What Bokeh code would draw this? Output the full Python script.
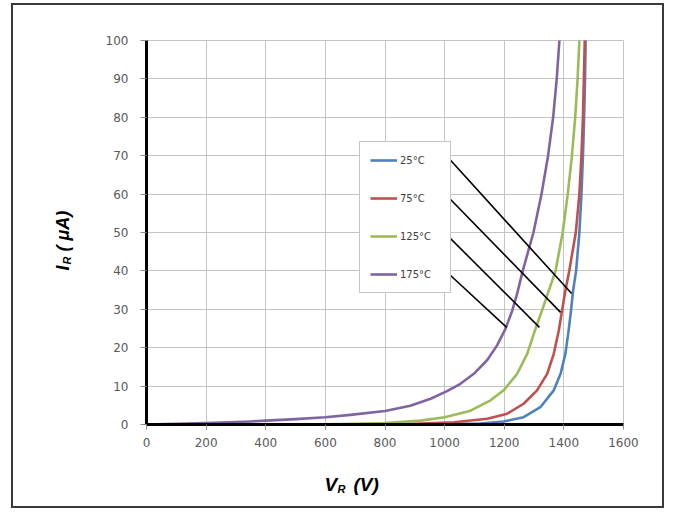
import math
from bokeh.plotting import figure
from bokeh.models import Range1d, FixedTicker, Legend, LegendItem, Label
from bokeh.embed import file_html
from bokeh.resources import INLINE

# ---- data ----
v_25 = [0, 900, 1000, 1120, 1198, 1265, 1321, 1366, 1389, 1405, 1416, 1424, 1431, 1441, 1452, 1459, 1464, 1468, 1471, 1473]
i_25 = [0, 0.02, 0.1, 0.25, 0.8, 1.9, 4.5, 8.9, 13.2, 18.4, 24.5, 29.7, 34.9, 40, 50, 60, 70, 80, 90, 100]

v_75 = [0, 800, 900, 1031, 1143, 1210, 1265, 1310, 1344, 1366, 1383, 1394, 1405, 1418, 1440, 1452, 1459, 1464, 1467, 1470]
i_75 = [0, 0.05, 0.2, 0.6, 1.5, 2.8, 5.4, 8.9, 13.2, 18.4, 24.5, 29.7, 34.9, 40, 50, 60, 70, 80, 90, 100]

v_125 = [0, 600, 700, 800, 919, 1000, 1087, 1154, 1198, 1243, 1277, 1299, 1328, 1350, 1372, 1396, 1413, 1427, 1438, 1446, 1452]
i_125 = [0, 0.05, 0.15, 0.4, 1.0, 1.9, 3.6, 6.3, 8.9, 13.2, 18.4, 23.6, 30, 35, 40, 50, 60, 70, 80, 90, 100]

v_175 = [0, 200, 349, 400, 500, 600, 684, 800, 885, 953, 1008, 1053, 1098, 1143, 1176, 1204, 1227, 1243, 1262, 1298, 1325, 1347, 1364, 1376, 1385]
i_175 = [0, 0.4, 0.8, 1.0, 1.4, 1.9, 2.5, 3.5, 4.9, 6.7, 8.7, 10.6, 13.2, 16.8, 20.6, 24.9, 29.7, 34, 40, 50, 60, 70, 80, 90, 100]

series_names = ["25°C", "75°C", "125°C", "175°C"]
series_colors = ["#4F81BD", "#C0504D", "#9BBB59", "#8064A2"]

# leader lines from the legend entries to the curves (data units)
leader_x0 = [1020, 1020, 1020, 1020]
leader_y0 = [68.8, 58.6, 48.4, 38.8]
leader_x1 = [1426, 1389, 1318, 1208]
leader_y1 = [34.1, 29.2, 25.3, 25.3]

x_ticks = [0, 200, 400, 600, 800, 1000, 1200, 1400, 1600]
y_ticks = [0, 10, 20, 30, 40, 50, 60, 70, 80, 90, 100]
x_lim = (0, 1600)
y_lim = (0, 100)

# ---- figure: the frame fills the whole canvas, axes sit at fixed locations ----
W, H = 653, 505
left_px, right_px, top_px, bottom_px = 133, 43, 35, 86
sx = (W - left_px - right_px) / (x_lim[1] - x_lim[0])
sy = (H - top_px - bottom_px) / (y_lim[1] - y_lim[0])
x_range = Range1d(x_lim[0] - left_px / sx, x_lim[1] + right_px / sx)
y_range = Range1d(y_lim[0] - bottom_px / sy, y_lim[1] + top_px / sy)

p = figure(width=W, height=H, output_backend="svg", toolbar_location=None,
           x_range=x_range, y_range=y_range,
           min_border_left=0, min_border_right=0, min_border_top=0, min_border_bottom=0)
p.styles = {"border": "2px solid #3a3a3a", "margin-left": "11px", "margin-top": "3px"}
p.outline_line_color = None
p.background_fill_color = "white"
p.border_fill_color = "white"

p.xaxis[0].fixed_location = 0
p.yaxis[0].fixed_location = 0
p.xaxis[0].bounds = x_lim
p.yaxis[0].bounds = y_lim
for ax in (p.xaxis[0], p.yaxis[0]):
    ax.axis_line_color = "black"
    ax.axis_line_width = 3
    ax.major_tick_line_color = "#8a8a8a"
    ax.major_tick_in = 0
    ax.minor_tick_line_color = None
    ax.major_label_text_color = "#595959"
    ax.major_label_text_font = "DejaVu Sans"
    ax.major_label_text_font_size = "12px"
p.xaxis[0].ticker = FixedTicker(ticks=x_ticks)
p.yaxis[0].ticker = FixedTicker(ticks=y_ticks)
p.xaxis[0].major_tick_out = 5
p.yaxis[0].major_tick_out = 6
p.xaxis[0].major_label_standoff = 8
p.yaxis[0].major_label_standoff = 12

p.xgrid[0].ticker = FixedTicker(ticks=x_ticks)
p.ygrid[0].ticker = FixedTicker(ticks=y_ticks)
p.xgrid[0].bounds = x_lim
p.xgrid[0].cross_bounds = y_lim
p.ygrid[0].bounds = y_lim
p.ygrid[0].cross_bounds = x_lim
for g in (p.xgrid[0], p.ygrid[0]):
    g.grid_line_color = "#c4c4c4"
    g.grid_line_width = 1

xs = [v_25, v_75, v_125, v_175]
ys = [i_25, i_75, i_125, i_175]
items = []
for x, y, name, col in zip(xs, ys, series_names, series_colors):
    r = p.line(x, y, line_color=col, line_width=2.6, line_join="round")
    items.append(LegendItem(label=name, renderers=[r]))

p.segment(x0=leader_x0, y0=leader_y0, x1=leader_x1, y1=leader_y1,
          line_color="black", line_width=1.6)

legend = Legend(items=items, location=(346, 217), orientation="vertical",
                padding=10, spacing=22, label_height=16, glyph_height=16,
                glyph_width=27, label_standoff=3, label_width=40, margin=0,
                label_text_font="DejaVu Sans", label_text_font_size="10px",
                label_text_color="#404040", border_line_color="#8c8c8c",
                border_line_width=1, background_fill_color="white",
                background_fill_alpha=1.0)
p.add_layout(legend, "center")

lab_font = "Liberation Sans"
def add_label(text, x, y, size, angle=0.0):
    p.add_layout(Label(text=text, x=x, y=y, x_units="screen", y_units="screen",
                       angle=angle, text_font=lab_font, text_font_size=size,
                       text_font_style="bold italic", text_color="black",
                       text_align="left", text_baseline="middle"))

# x axis title: V_R (V)
add_label("V", 311, 26, "19px")
add_label("R", 324, 22, "11px")
add_label("(V)", 340, 26, "19px")
# y axis title: I_R ( μA)
add_label("I", 49, 240, "18px", math.pi / 2)
add_label("R", 53, 246, "11px", math.pi / 2)
add_label("( μA)", 49, 259, "18px", math.pi / 2)

open("out.html", "w").write(file_html(p, INLINE))
